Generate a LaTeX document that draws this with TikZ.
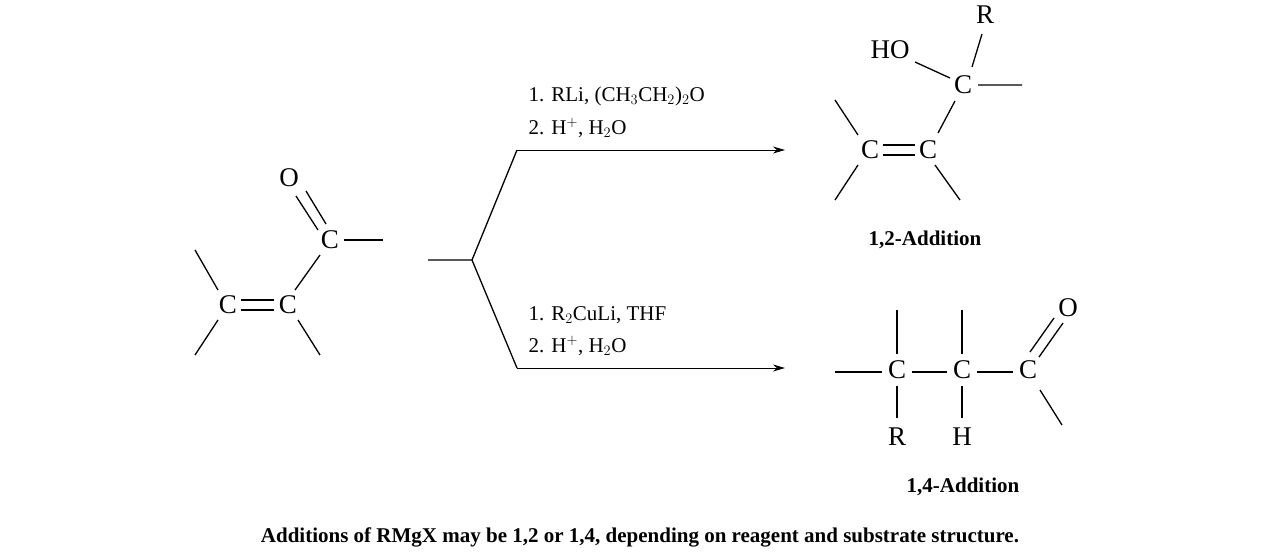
\documentclass[tikz,border=0pt]{standalone}
\usepackage{fontspec}
\setmainfont{Liberation Serif}
\usetikzlibrary{arrows.meta}
\begin{document}
\begin{tikzpicture}[x=1pt,y=-1pt,line width=1.3pt,
  atm/.style={inner sep=0pt,font=\fontsize{27}{27}\selectfont},
  rg/.style={inner sep=0pt,anchor=west,font=\fontsize{21}{21}\selectfont},
  lb/.style={inner sep=0pt,font=\bfseries\fontsize{21}{21}\selectfont}]
\useasboundingbox (0,0) rectangle (1275,554);
% starting material
\node[atm] (o1) at (289,178) {O};
\node[atm] (c1) at (330,240) {C};
\node[atm] (c2) at (228,305) {C};
\node[atm] (c3) at (288,305) {C};
\draw (296,196)--(318,230) (306,191)--(326,224);
\draw (344,240)--(383,240);
\draw (241,300)--(274,300) (241,310)--(274,310);
\draw (195,250)--(218,290) (218,320)--(195,355);
\draw (295,290)--(320,255) (298,320)--(320,355);
% fork
\coordinate (f0) at (428,260); \coordinate (f1) at (472,260);
\coordinate (u) at (517,150); \coordinate (d) at (517,368);
\coordinate (ue) at (785,150); \coordinate (de) at (785,368);
\draw (f0)--(f1)--(u) (f1)--(d);
\draw[-{Stealth[length=12pt,width=7pt]},line width=1pt] (u)--(ue);
\draw[-{Stealth[length=12pt,width=7pt]},line width=1pt] (d)--(de);
\node[rg] (r1) at (528,96) {1. RLi, (CH$_3$CH$_2$)$_2$O};
\node[rg] (r2) at (528,128) {2. H$^+$, H$_2$O};
\node[rg] (r3) at (528,315) {1. R$_2$CuLi, THF};
\node[rg] (r4) at (528,346) {2. H$^+$, H$_2$O};
% product 1
\node[atm] (ho) at (890,50) {HO};
\node[atm] (r) at (985,15) {R};
\node[atm] (pc) at (963,85) {C};
\node[atm] (pa) at (870,150) {C};
\node[atm] (pb) at (928,150) {C};
\draw (982,34)--(972,67) (915,62)--(950,78) (978,85)--(1022,85);
\draw (955,101)--(938,133);
\draw (883,145)--(915,145) (883,155)--(915,155);
\draw (835,100)--(858,135) (858,165)--(835,200) (935,165)--(960,200);
\node[lb] (l1) at (925,240) {1,2-Addition};
% product 2
\node[atm] (qa) at (897,370) {C};
\node[atm] (qb) at (962,370) {C};
\node[atm] (qc) at (1028,370) {C};
\node[atm] (qo) at (1068,308) {O};
\node[atm] (qr) at (897,437) {R};
\node[atm] (qh) at (962,437) {H};
\draw (835,372)--(882,372) (912,372)--(947,372) (977,372)--(1013,372);
\draw (897,310)--(897,354) (897,386)--(897,418);
\draw (962,310)--(962,354) (962,386)--(962,418);
\draw (1030,352)--(1054,318) (1039,357)--(1063,323);
\draw (1040,390)--(1062,425);
\node[lb] (l2) at (963,487) {1,4-Addition};
\node[lb] (cap) at (640,537) {Additions of RMgX may be 1,2 or 1,4, depending on reagent and substrate structure.};
\end{tikzpicture}
\end{document}
